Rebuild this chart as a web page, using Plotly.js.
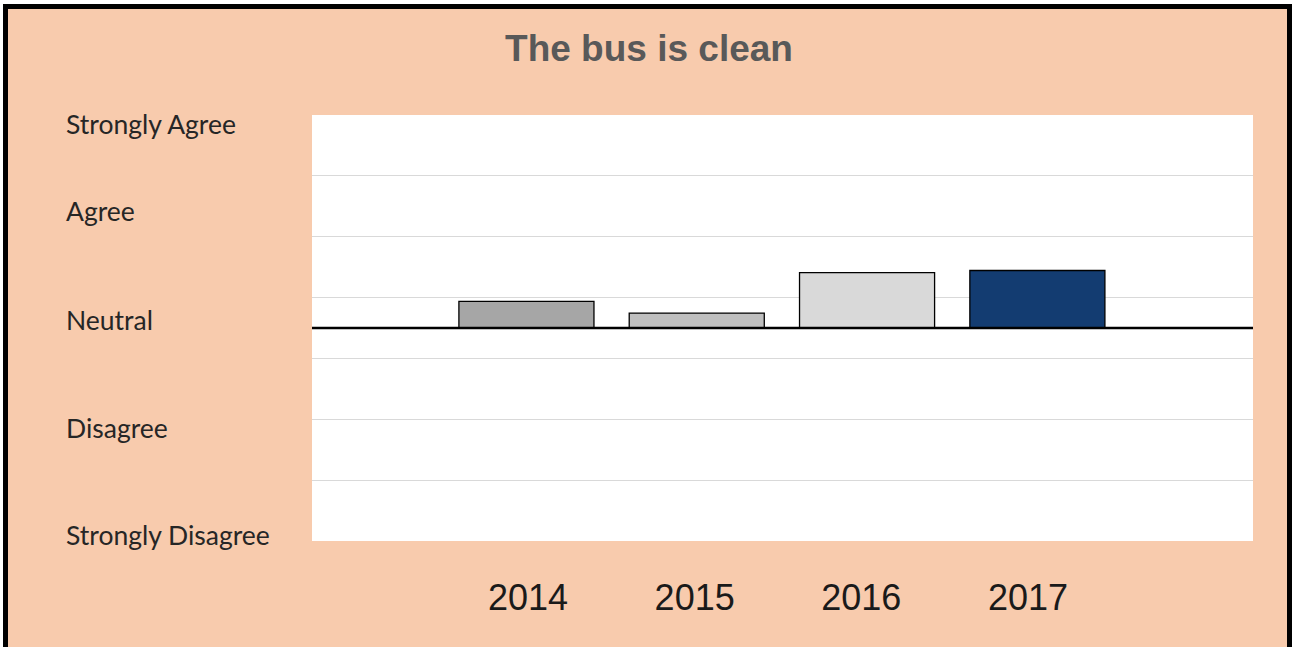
<!DOCTYPE html>
<html>
<head>
<meta charset="utf-8">
<script src="https://cdn.plot.ly/plotly-3.0.1.min.js"></script>
<style>
  html, body { margin: 0; padding: 0; background: #ffffff; overflow: hidden; }
  #chart { position: absolute; left: 0; top: 0; width: 1294px; height: 647px; }
  #frame { position: absolute; left: 3px; top: 4px; width: 1289px; height: 700px;
           box-sizing: border-box; border: 5px solid #000; box-shadow: 0 0 0 5px #fff;
           pointer-events: none; }
</style>
</head>
<body>
<div id="chart"></div>
<div id="frame"></div>
<script>
// ---- data ----
const chartTitle = "The bus is clean";
const years = ["2014", "2015", "2016", "2017"];
const scores = [3.25, 3.14, 3.52, 3.54];          // 1 = Strongly Disagree ... 5 = Strongly Agree
const neutralValue = 3;
const scaleLabels = ["Strongly Agree", "Agree", "Neutral", "Disagree", "Strongly Disagree"];
const barColors = ["#A6A6A6", "#BFBFBF", "#D9D9D9", "#133C71"];

// ---- presentation ----
const labelPaperY = [0.979, 0.775, 0.519, 0.266, 0.014];

const bars = {
  type: "bar",
  x: years,
  y: scores.map(v => v - neutralValue),
  base: neutralValue,
  width: 0.793,
  marker: { color: barColors, line: { color: "#000000", width: 1.3 } },
  hoverinfo: "x+text",
  text: scores.map(String),
  textposition: "none",
  showlegend: false
};

const labelCarrier = {
  type: "scatter",
  x: years,
  y: scores,
  xaxis: "x2",
  mode: "none",
  hoverinfo: "skip",
  showlegend: false
};

const layout = {
  width: 1294,
  height: 647,
  margin: { l: 312, r: 41, t: 115, b: 106, pad: 0 },
  paper_bgcolor: "#F8CBAD",
  plot_bgcolor: "#FFFFFF",
  title: {
    text: "<b>" + chartTitle + "</b>",
    font: { family: "Liberation Sans, Arial, sans-serif", size: 37, color: "#595959" },
    x: 649 / 1294, xref: "container", xanchor: "center",
    y: 1 - 48 / 647, yref: "container", yanchor: "middle"
  },
  xaxis: {
    type: "category",
    range: [-1.259, 4.266],
    showticklabels: false,
    showgrid: false,
    zeroline: false,
    showline: false,
    ticks: "",
    fixedrange: true
  },
  xaxis2: {
    type: "category",
    overlaying: "x",
    anchor: "y",
    side: "bottom",
    range: [-1.296, 4.35],
    showgrid: false,
    zeroline: false,
    showline: false,
    ticks: "",
    ticklabelstandoff: 32,
    tickfont: { family: "Liberation Sans, Arial, sans-serif", size: 36, color: "#1a1a1a" },
    fixedrange: true
  },
  yaxis: {
    range: [1, 5],
    tick0: 1,
    dtick: 4 / 7,
    showticklabels: false,
    showgrid: true,
    gridcolor: "#D9D9D9",
    gridwidth: 1,
    zeroline: false,
    showline: false,
    ticks: "",
    fixedrange: true
  },
  shapes: [{
    type: "line", xref: "paper", x0: 0, x1: 1,
    yref: "y", y0: neutralValue, y1: neutralValue,
    line: { color: "#000000", width: 2.5 },
    layer: "above"
  }],
  annotations: scaleLabels.map((t, i) => ({
    text: t,
    xref: "paper", x: -0.2636, xanchor: "left",
    yref: "paper", y: labelPaperY[i], yanchor: "middle",
    showarrow: false,
    font: { family: "Lato, sans-serif", size: 26.5, color: "#262626" }
  })),
  bargap: 0
};

Plotly.newPlot("chart", [bars, labelCarrier], layout, { displayModeBar: false, staticPlot: true });
</script>
</body>
</html>
